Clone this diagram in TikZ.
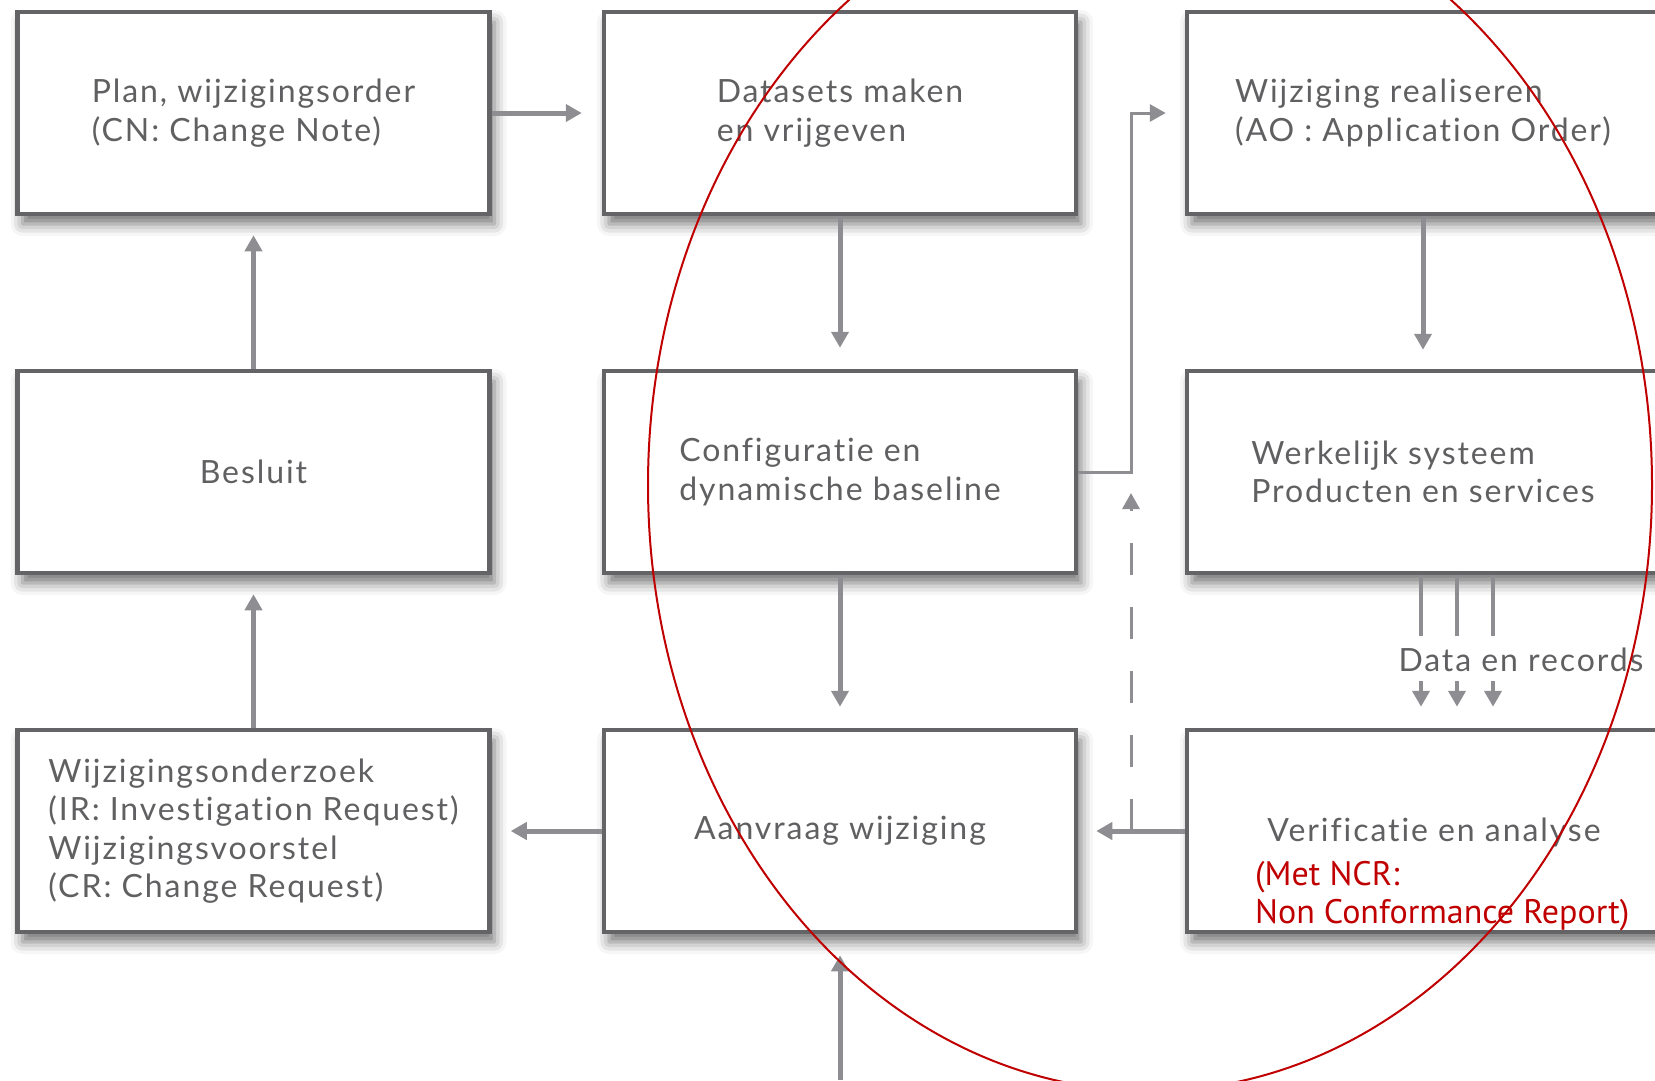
\documentclass[tikz,border=0pt]{standalone}
\usepackage{fontspec}
\setmainfont[LetterSpace=6, Ligatures={NoCommon}]{Lato}
\newfontfamily\ncrfont{PT Sans}
\usetikzlibrary{arrows.meta,shadows.blur}

\definecolor{boxline}{RGB}{100,100,102}
\definecolor{txtgray}{RGB}{96,96,98}
\definecolor{arrowgray}{RGB}{142,142,146}
\definecolor{ncrred}{RGB}{192,0,0}

\begin{document}
\begin{tikzpicture}[x=1pt,y=-1pt,
  procbox/.style={draw=boxline, line width=4.5pt, fill=white,
    minimum width=472pt, minimum height=202pt, inner sep=0pt,
    text=txtgray, align=left, font=\fontsize{32}{38.5}\selectfont,
    blur shadow={shadow xshift=5pt, shadow yshift=-10pt,
      shadow blur radius=12pt, shadow opacity=55}},
  boxtext/.style={text=txtgray, inner sep=0pt, font=\fontsize{32}{38.5}\selectfont},
  flow/.style={draw=arrowgray, line width=5pt, -{Triangle[length=16pt,width=17pt]}},
  thinflow/.style={flow, line width=3pt},
  dataline/.style={draw=arrowgray, line width=4pt},
  dashflow/.style={thinflow, dash pattern=on 32pt off 32pt},
]
\useasboundingbox (0,0) rectangle (1655,1080);

% process boxes, three columns by three rows
\node[procbox] (plan) at (253.5,113) {Plan, wijzigingsorder\\(CN: Change Note)};
\node[procbox] (data) at (840,113) {Datasets maken\\en vrijgeven};
\node[procbox] (real) at (1423,113) {Wijziging realiseren\\(AO : Application Order)};
\node[procbox] (besl) at (253.5,472) {Besluit};
\node[procbox] (conf) at (840,472) {Configuratie en\\dynamische baseline};
\node[procbox] (werk) at (1423,472) {Werkelijk systeem\\Producten en services};
\node[procbox] (onderz) at (253.5,831) {Wijzigingsonderzoek\\(IR: Investigation Request)\\Wijzigingsvoorstel\\(CR: Change Request)};
\node[procbox] (aanv) at (840,831) {Aanvraag wijziging};
\node[procbox] (veri) at (1423,831) {};
\node[boxtext] (verit) at (1434,832) {Verificatie en analyse};
\node[anchor=north west, inner sep=0pt, text=ncrred, align=left,
  font=\ncrfont\fontsize{34}{38}\selectfont] (ncr) at (1255,861)
  {(Met NCR:\\Non Conformance Report)};

% connectors
\coordinate (jx) at (1131,472);
\coordinate (bottomin) at (840,1080);
\draw[flow, shorten >=20pt] (plan) -- (data);
\draw[flow, shorten >=21pt] (data) -- (conf);
\draw[flow, shorten >=21pt] (conf) -- (aanv);
\draw[flow, shorten >=19pt] (real) -- (werk);
\draw[thinflow, shorten >=19pt] (conf.east) -- (jx) |- (real.west);
\draw[flow, shorten >=18pt] (veri) -- (aanv);
\draw[dashflow] (jx |- veri.west) -- ([yshift=-21pt]jx);
\draw[flow, shorten >=19pt] (aanv) -- (onderz);
\draw[flow, shorten >=19pt] (onderz) -- (besl);
\draw[flow, shorten >=19pt] (besl) -- (plan);
\draw[flow, shorten >=21pt] (bottomin) -- (aanv.south);

% data and records flowing from the real system to verification
\node[boxtext] (dlabel) at (1521,660) {Data en records};
\foreach \dx in {-2,34,70} {
  \draw[dataline] ([xshift=\dx pt]werk.south) -- ++(0,61);
  \draw[thinflow, line width=4pt, shorten >=21pt]
    ([shift={(\dx,-47)}]veri.north) -- ([xshift=\dx pt]veri.north);
}

% highlight ellipse
\draw[ncrred, line width=2pt] (1150,485) ellipse [x radius=502, y radius=606];
\end{tikzpicture}
\end{document}
